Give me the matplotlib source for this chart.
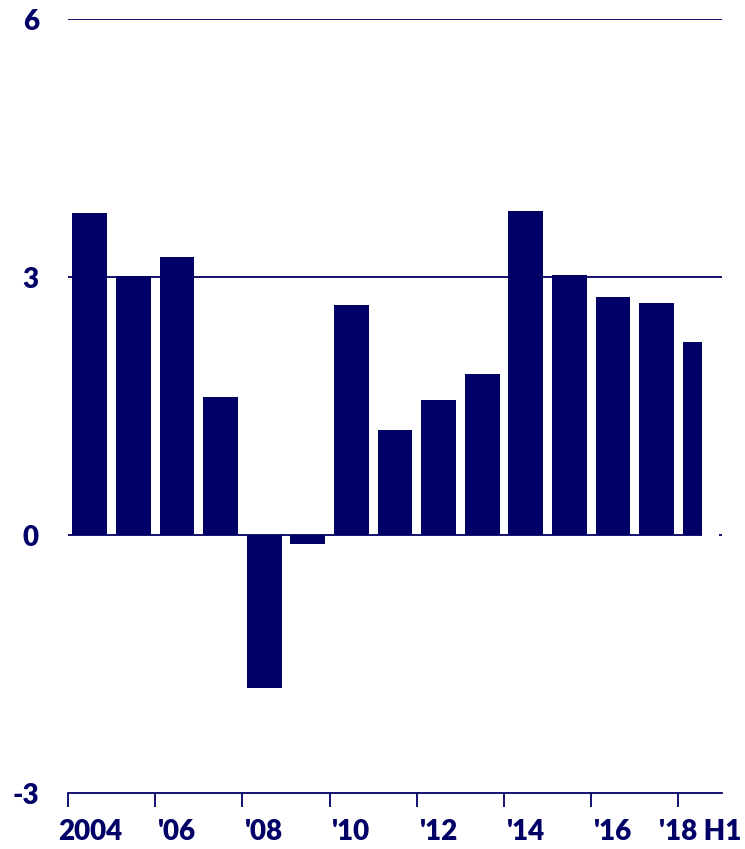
import numpy as np
from matplotlib import pyplot as plt

years = ['2004', '2005', '2006', '2007', '2008', '2009', '2010', '2011',
         '2012', '2013', '2014', '2015', '2016', '2017', '2018 H1']
values = [3.75, 3.01, 3.23, 1.60, -1.78, -0.10, 2.67, 1.22,
          1.57, 1.87, 3.77, 3.02, 2.77, 2.70, 2.25]
tick_labels = ['2004', "'06", "'08", "'10", "'12", "'14", "'16", "'18 H1"]
y_ticks = [-3, 0, 3, 6]

navy = '#000066'
plt.rcParams['font.family'] = ['Lato', 'DejaVu Sans']

fig = plt.figure(figsize=(7.45, 8.49), dpi=100)
ax = fig.add_axes([68 / 745, 1 - 793 / 849, (722 - 68) / 745, (793 - 19) / 849])

x = np.arange(len(years))
widths = [0.8] * (len(years) - 1) + [0.44]
ax.bar(x - 0.4, values, width=widths, align='edge', color=navy, zorder=3)

# gridlines at 3 and 6
for yv in [3, 6]:
    ax.axhline(yv, color=navy, lw=1.3, zorder=1)
last_right = x[-1] - 0.4 + widths[-1]
ax.hlines(0, -0.5, last_right, color=navy, lw=1.3, zorder=2)
ax.hlines(0, 14.42, 14.5, color=navy, lw=1.3, zorder=2)

ax.set_xlim(-0.5, 14.5)
ax.set_ylim(-3, 6)

for s in ['top', 'right', 'left']:
    ax.spines[s].set_visible(False)
ax.spines['bottom'].set_color(navy)
ax.spines['bottom'].set_linewidth(1.3)

ax.set_xticks(np.arange(-0.5, 14, 2))
ax.set_xticklabels([])
ax.tick_params(axis='x', which='major', length=10, width=1.3, color=navy)
ax.set_xticks(np.arange(0, 15, 2), minor=True)
ax.set_xticklabels(tick_labels, minor=True, fontweight='heavy')
ax.tick_params(axis='x', which='minor', length=0, pad=19, labelsize=20, labelcolor=navy)

ax.set_yticks(y_ticks)
ax.set_yticklabels([str(v) for v in y_ticks], fontweight='heavy')
ax.tick_params(axis='y', length=0, pad=21, labelsize=20, labelcolor=navy)

plt.savefig('out.png', dpi=100)
